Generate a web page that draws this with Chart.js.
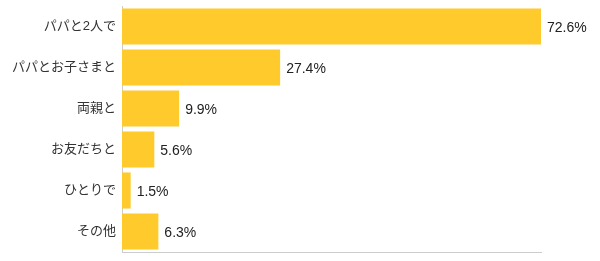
<!DOCTYPE html>
<html>
<head>
<meta charset="utf-8">
<script src="https://cdn.jsdelivr.net/npm/chart.js@4/dist/chart.umd.min.js"></script>
<style>
  html, body { margin: 0; padding: 0; background: #fff; }
  #wrap { width: 600px; height: 261px; }
</style>
</head>
<body>
<div id="wrap"><canvas id="chart"></canvas></div>
<script>
// 誰と行ったか (%)
const categories = ['パパと2人で', 'パパとお子さまと', '両親と', 'お友だちと', 'ひとりで', 'その他'];
const shares = [72.6, 27.4, 9.9, 5.6, 1.5, 6.3];

const barColor = 'rgb(255, 202, 44)';
const fontFamily = '"Liberation Sans", Arial, "Noto Sans CJK JP", sans-serif';

// Werte rechts neben die Balken schreiben
const valueLabels = {
    id: 'valueLabels',
    afterDatasetsDraw(chart) {
        const ctx = chart.ctx;
        const meta = chart.getDatasetMeta(0);
        ctx.save();
        ctx.font = '14px ' + fontFamily;
        ctx.fillStyle = '#222';
        ctx.textAlign = 'left';
        ctx.textBaseline = 'middle';
        meta.data.forEach((bar, i) => {
            ctx.fillText(shares[i].toFixed(1) + '%', bar.x + 6, bar.y + 2);
        });
        ctx.restore();
    }
};

new Chart(document.getElementById('chart'), {
    type: 'bar',
    data: {
        labels: categories,
        datasets: [{
            data: shares,
            backgroundColor: barColor,
            borderWidth: 0,
            barPercentage: 0.88,
            categoryPercentage: 1.0,
        }]
    },
    options: {
        indexAxis: 'y',
        responsive: true,
        maintainAspectRatio: false,
        animation: false,
        layout: {
            padding: { top: 6, right: 59, bottom: 9, left: 0 }
        },
        plugins: {
            legend: { display: false },
            tooltip: { enabled: false },
        },
        scales: {
            x: {
                min: 0,
                max: 72.6,
                ticks: { display: false },
                grid: { display: false, drawTicks: false },
                border: { display: true, color: '#cccccc', width: 1 },
                afterFit(scale) {
                    scale.height = 0;
                    scale.paddingLeft = 0;
                    scale.paddingRight = 0;
                },
            },
            y: {
                ticks: {
                    color: '#333',
                    font: { size: 13, family: fontFamily },
                    padding: 6,
                },
                grid: { display: false, drawTicks: false },
                border: { display: true, color: '#cccccc', width: 1 },
                afterFit(scale) {
                    scale.width = 122;
                    scale.paddingTop = 0;
                    scale.paddingBottom = 0;
                },
            }
        }
    },
    plugins: [valueLabels]
});
</script>
</body>
</html>
